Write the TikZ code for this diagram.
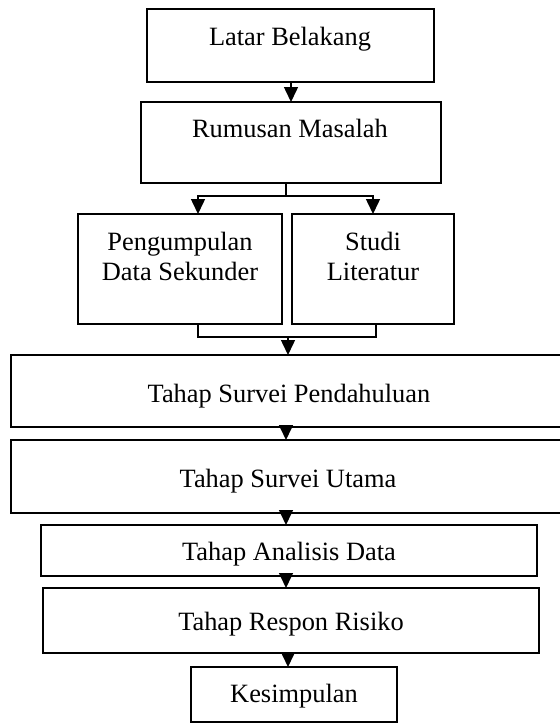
\documentclass[tikz,border=0pt]{standalone}
\usepackage{fontspec}
\setmainfont{Liberation Serif}
\usetikzlibrary{arrows.meta,fit}
\tikzset{
  box/.style={draw, line width=1pt, inner sep=0pt, outer sep=0pt},
  txt/.style={anchor=base, inner sep=0pt, font=\fontsize{13.2pt}{15pt}\selectfont},
  conn/.style={line width=0.75pt},
  arr/.style={line width=0.75pt, -{Triangle[width=7pt,length=7.5pt]}},
}
\begin{document}
\begin{tikzpicture}[x=0.5pt,y=-0.5pt]
\useasboundingbox (0,0) rectangle (560,723);
% boxes
\node[box, fit={(147,9) (434,82)}] (lb) {};
\node[box, fit={(141,102) (441,183)}] (rm) {};
\node[box, fit={(78,214) (282,324)}] (pds) {};
\node[box, fit={(292,214) (454,324)}] (sl) {};
\node[box, fit={(11,355) (567,427)}] (tsp) {};
\node[box, fit={(11,440) (567,513)}] (tsu) {};
\node[box, fit={(41,525) (537,576)}] (tad) {};
\node[box, fit={(43,588) (539,653)}] (trr) {};
\node[box, fit={(191,667) (397,722)}] (kes) {};
% texts
\node[txt] (lbt) at (290,45) {Latar Belakang};
\node[txt] (rmt) at (290,137) {Rumusan Masalah};
\node[txt] (pdst1) at (180,250) {Pengumpulan};
\node[txt] (pdst2) at (180,280) {Data Sekunder};
\node[txt] (slt1) at (373,250) {Studi};
\node[txt] (slt2) at (373,280) {Literatur};
\node[txt] (tspt) at (289,402) {Tahap Survei Pendahuluan};
\node[txt] (tsut) at (288,487) {Tahap Survei Utama};
\node[txt] (tadt) at (289,560) {Tahap Analisis Data};
\node[txt] (trrt) at (291,630) {Tahap Respon Risiko};
\node[txt] (kest) at (294,702) {Kesimpulan};
% connector helper coordinates
\coordinate (a1) at (291,0);
\coordinate (split) at (286,196);
\coordinate (sL) at (198,196);
\coordinate (sR) at (373,196);
\coordinate (bL) at (198,337);
\coordinate (bR) at (376,337);
\coordinate (bM) at (288,337);
\coordinate (a2) at (286,0);
\coordinate (a3) at (288,0);
% connectors
\draw[arr] (lb.south -| a1) -- (rm.north -| a1);
\draw[conn] (rm.south -| split) -- (split);
\draw[arr] (split) -| (sL |- pds.north);
\draw[arr] (split) -| (sR |- sl.north);
\draw[conn] (pds.south -| bL) -- (bL) -- (bR) -- (sl.south -| bR);
\draw[arr] (bM) -- (bM |- tsp.north);
\draw[arr] (tsp.south -| a2) -- (tsu.north -| a2);
\draw[arr] (tsu.south -| a2) -- (tad.north -| a2);
\draw[arr] (tad.south -| a2) -- (trr.north -| a2);
\draw[arr] (trr.south -| a3) -- (kes.north -| a3);
\end{tikzpicture}
\end{document}
